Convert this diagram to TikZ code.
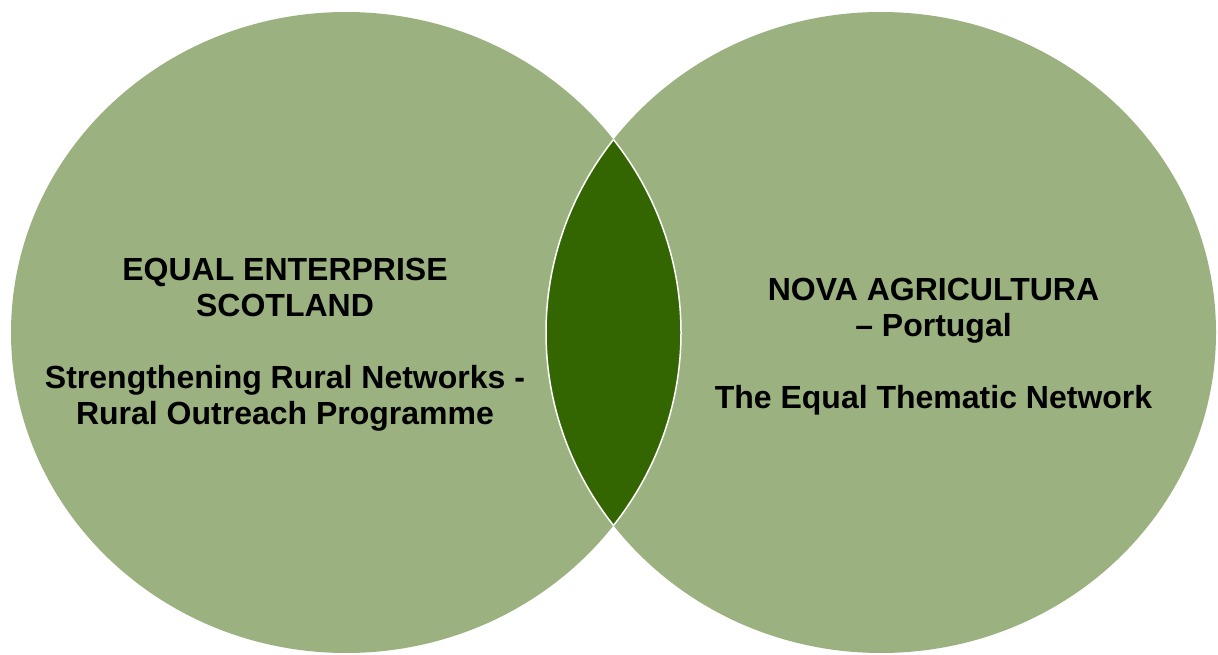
\documentclass[tikz,border=0pt]{standalone}
\usepackage{fontspec}
\setmainfont{Liberation Sans}
\definecolor{sage}{RGB}{155,178,128}
\definecolor{leaf}{RGB}{51,102,0}
\begin{document}
\begin{tikzpicture}[x=1pt,y=-1pt,
  label text/.style={align=center, inner sep=0pt, font=\bfseries\fontsize{32}{36}\selectfont}]
\useasboundingbox (0,0) rectangle (1218,655);
\fill[sage] (346,332.5) ellipse [x radius=335, y radius=320.5];
\fill[sage] (881,332.5) ellipse [x radius=335, y radius=320.5];
\begin{scope}
\clip (346,332.5) ellipse [x radius=335, y radius=320.5];
\fill[leaf] (881,332.5) ellipse [x radius=335, y radius=320.5];
\draw[white, line width=1.5pt] (881,332.5) ellipse [x radius=335, y radius=320.5];
\end{scope}
\begin{scope}
\clip (881,332.5) ellipse [x radius=335, y radius=320.5];
\draw[white, line width=1.5pt] (346,332.5) ellipse [x radius=335, y radius=320.5];
\end{scope}
\node[label text] (scot) at (285,344.4) {EQUAL ENTERPRISE\\SCOTLAND\\[36pt]Strengthening Rural Networks -\\Rural Outreach Programme};
\node[label text] (port) at (933.5,346.9) {NOVA AGRICULTURA\\– Portugal\\[36pt]The Equal Thematic Network};
\end{tikzpicture}
\end{document}
